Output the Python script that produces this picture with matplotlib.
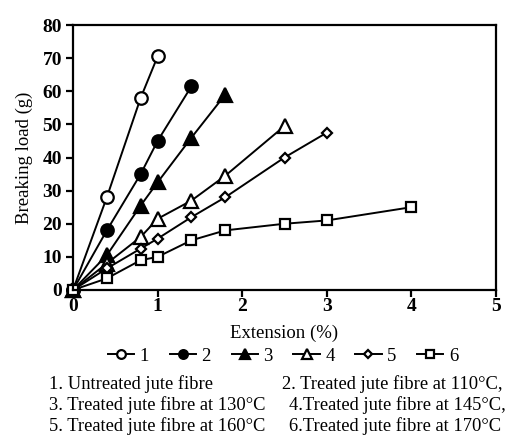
import matplotlib
matplotlib.use("Agg")
import matplotlib.pyplot as plt

plt.rcParams["font.family"] = ["Liberation Serif", "DejaVu Serif"]

# extension (%) and breaking load (g)
x1 = [0, 0.4, 0.8, 1.0]
y1 = [0, 28, 58, 70.5]
x2 = [0, 0.4, 0.8, 1.0, 1.4]
y2 = [0, 18, 35, 45, 61.5]
x3 = [0, 0.4, 0.8, 1.0, 1.4, 1.8]
y3 = [0, 10.5, 25.5, 32.5, 46, 59]
x4 = [0, 0.4, 0.8, 1.0, 1.4, 1.8, 2.5]
y4 = [0, 8, 16, 21.5, 27, 34.5, 49.5]
x5 = [0, 0.4, 0.8, 1.0, 1.4, 1.8, 2.5, 3.0]
y5 = [0, 6.5, 12.5, 15.5, 22, 28, 40, 47.5]
x6 = [0, 0.4, 0.8, 1.0, 1.4, 1.8, 2.5, 3.0, 4.0]
y6 = [0, 3.5, 9, 10, 15, 18, 20, 21, 25]

labels = ["1", "2", "3", "4", "5", "6"]
notes = [
    ("1. Untreated jute fibre", "2. Treated jute fibre at 110°C,"),
    ("3. Treated jute fibre at 130°C", "4.Treated jute fibre at 145°C,"),
    ("5. Treated jute fibre at 160°C", "6.Treated jute fibre at 170°C"),
]

W, H = 513, 436
fig = plt.figure(figsize=(W / 100, H / 100), dpi=100)
ax = fig.add_axes([73 / W, 1 - 290 / H, (496 - 73) / W, (290 - 25) / H])

styles = [
    dict(marker="o", mfc="white", ms=9),
    dict(marker="o", mfc="black", ms=9),
    dict(marker="^", mfc="black", ms=10),
    dict(marker="^", mfc="white", ms=10),
    dict(marker="D", mfc="white", ms=5.5),
    dict(marker="s", mfc="white", ms=7.5),
]
series = [(x1, y1), (x2, y2), (x3, y3), (x4, y4), (x5, y5), (x6, y6)]

handles = []
for (xs, ys), st, lab in zip(series, styles, labels):
    h, = ax.plot(xs, ys, color="black", lw=1.4, mec="black", mew=1.6,
                 label=lab, clip_on=False, **st)
    handles.append(h)

ax.set_xlim(0, 5)
ax.set_ylim(0, 80)
ax.set_xticks(range(0, 6))
ax.set_yticks(range(0, 81, 10))
ax.tick_params(axis="both", direction="out", length=5, width=1.6,
               labelsize=14)
ax.tick_params(axis="y", pad=3)
ax.tick_params(axis="x", pad=1)
for lbl in ax.get_xticklabels() + ax.get_yticklabels():
    lbl.set_fontweight("bold")
for sp in ax.spines.values():
    sp.set_linewidth(1.6)

ax.set_ylabel("Breaking load (g)", fontsize=13.5, labelpad=7)
ax.set_xlabel("Extension (%)", fontsize=13.5, labelpad=7)

fig.legend(handles=handles, labels=labels, loc="center",
           bbox_to_anchor=(283 / W, 1 - 356 / H), ncol=6, frameon=False,
           fontsize=13.5, handlelength=1.4, handletextpad=0.3,
           columnspacing=1.1, markerscale=0.7)

base_y = [389, 410, 431]
for (left, right), yp in zip(notes, base_y):
    fig.text(49 / W, 1 - yp / H, left, fontsize=13.3, va="baseline",
             ha="left")
    fig.text((282 if right.startswith("2") else 289) / W, 1 - yp / H, right,
             fontsize=13.3, va="baseline", ha="left")

fig.savefig("out.png", dpi=100)
